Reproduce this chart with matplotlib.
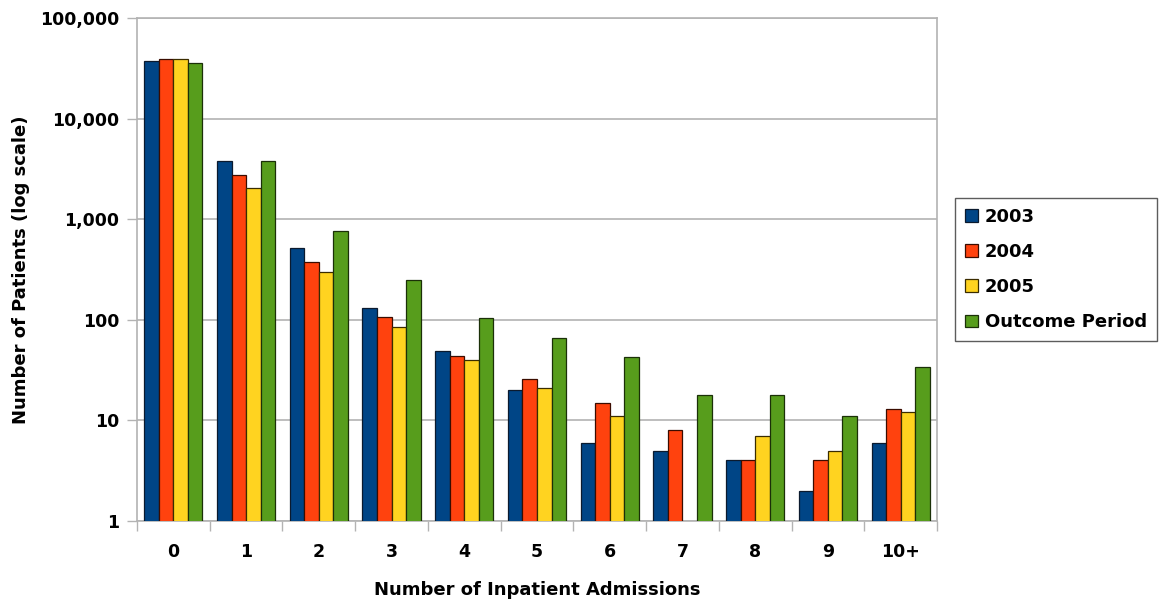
import numpy as np
import matplotlib.pyplot as plt
from matplotlib.ticker import FixedLocator, FuncFormatter, NullFormatter

plt.rcParams['font.family'] = ['DejaVu Sans']
plt.rcParams['font.weight'] = 'bold'

# Patients per number of inpatient admissions
categories = ['0', '1', '2', '3', '4', '5', '6', '7', '8', '9', '10+']
series_names = ['2003', '2004', '2005', 'Outcome Period']
y2003 = [37000, 3770, 514, 130, 49, 20, 6, 5, 4, 2, 6]
y2004 = [38900, 2730, 378, 107, 44, 26, 15, 8, 4, 4, 13]
y2005 = [38900, 2030, 301, 85, 40, 21, 11, 0, 7, 5, 12]
y_outcome = [35500, 3770, 758, 247, 104, 66, 43, 18, 18, 11, 34]

colors = ['#004586', '#ff420e', '#ffd320', '#579d1c']
edges = ['#0b1a2e', '#3a0c00', '#3a2c00', '#1b3008']

fig = plt.figure(figsize=(11.65, 6.05), dpi=100)
ax = fig.add_axes([0.1176, 0.1388, 0.6867, 0.8314])

x = np.arange(len(categories))
width = 0.2
for i, (name, vals) in enumerate(zip(series_names, [y2003, y2004, y2005, y_outcome])):
    ax.bar(x - 0.3 + i * width, vals, width, color=colors[i], edgecolor=edges[i],
           linewidth=0.9, label=name, zorder=3)

ax.set_yscale('log')
ax.set_ylim(1, 100000)
ax.set_xlim(-0.5, len(categories) - 0.5)

ax.yaxis.set_major_locator(FixedLocator([1, 10, 100, 1000, 10000, 100000]))
ax.yaxis.set_major_formatter(FuncFormatter(lambda v, p: f'{int(round(v)):,}'))
ax.yaxis.set_minor_formatter(NullFormatter())
ax.yaxis.set_minor_locator(FixedLocator([]))

ax.set_xticks(x)
ax.set_xticklabels(categories)
ax.xaxis.set_minor_locator(FixedLocator(np.arange(-0.5, len(categories), 1.0)))
ax.tick_params(axis='x', which='major', length=0, pad=16, labelsize=12.5)
ax.tick_params(axis='x', which='minor', length=7, color='#b3b3b3', width=1)
ax.tick_params(axis='y', which='major', length=7, color='#b3b3b3', width=1, labelsize=12.5, pad=6)

ax.grid(axis='y', color='#b3b3b3', linewidth=1.2, zorder=0)
for s in ax.spines.values():
    s.set_color('#b3b3b3')
    s.set_linewidth(1.2)

ax.set_xlabel('Number of Inpatient Admissions', fontsize=13, fontweight='bold', labelpad=14)
ax.set_ylabel('Number of Patients (log scale)', fontsize=13, fontweight='bold')
ax.yaxis.set_label_coords(-0.134, 0.5)

leg = ax.legend(loc='center left', bbox_to_anchor=(1.0225, 0.5), frameon=True, fancybox=False,
                edgecolor='#333333', fontsize=13, handlelength=0.7, handleheight=0.7,
                handletextpad=0.4, labelspacing=0.95, borderpad=0.55, borderaxespad=0)
leg.get_frame().set_linewidth(1.0)

fig.savefig('out.png', dpi=100)
